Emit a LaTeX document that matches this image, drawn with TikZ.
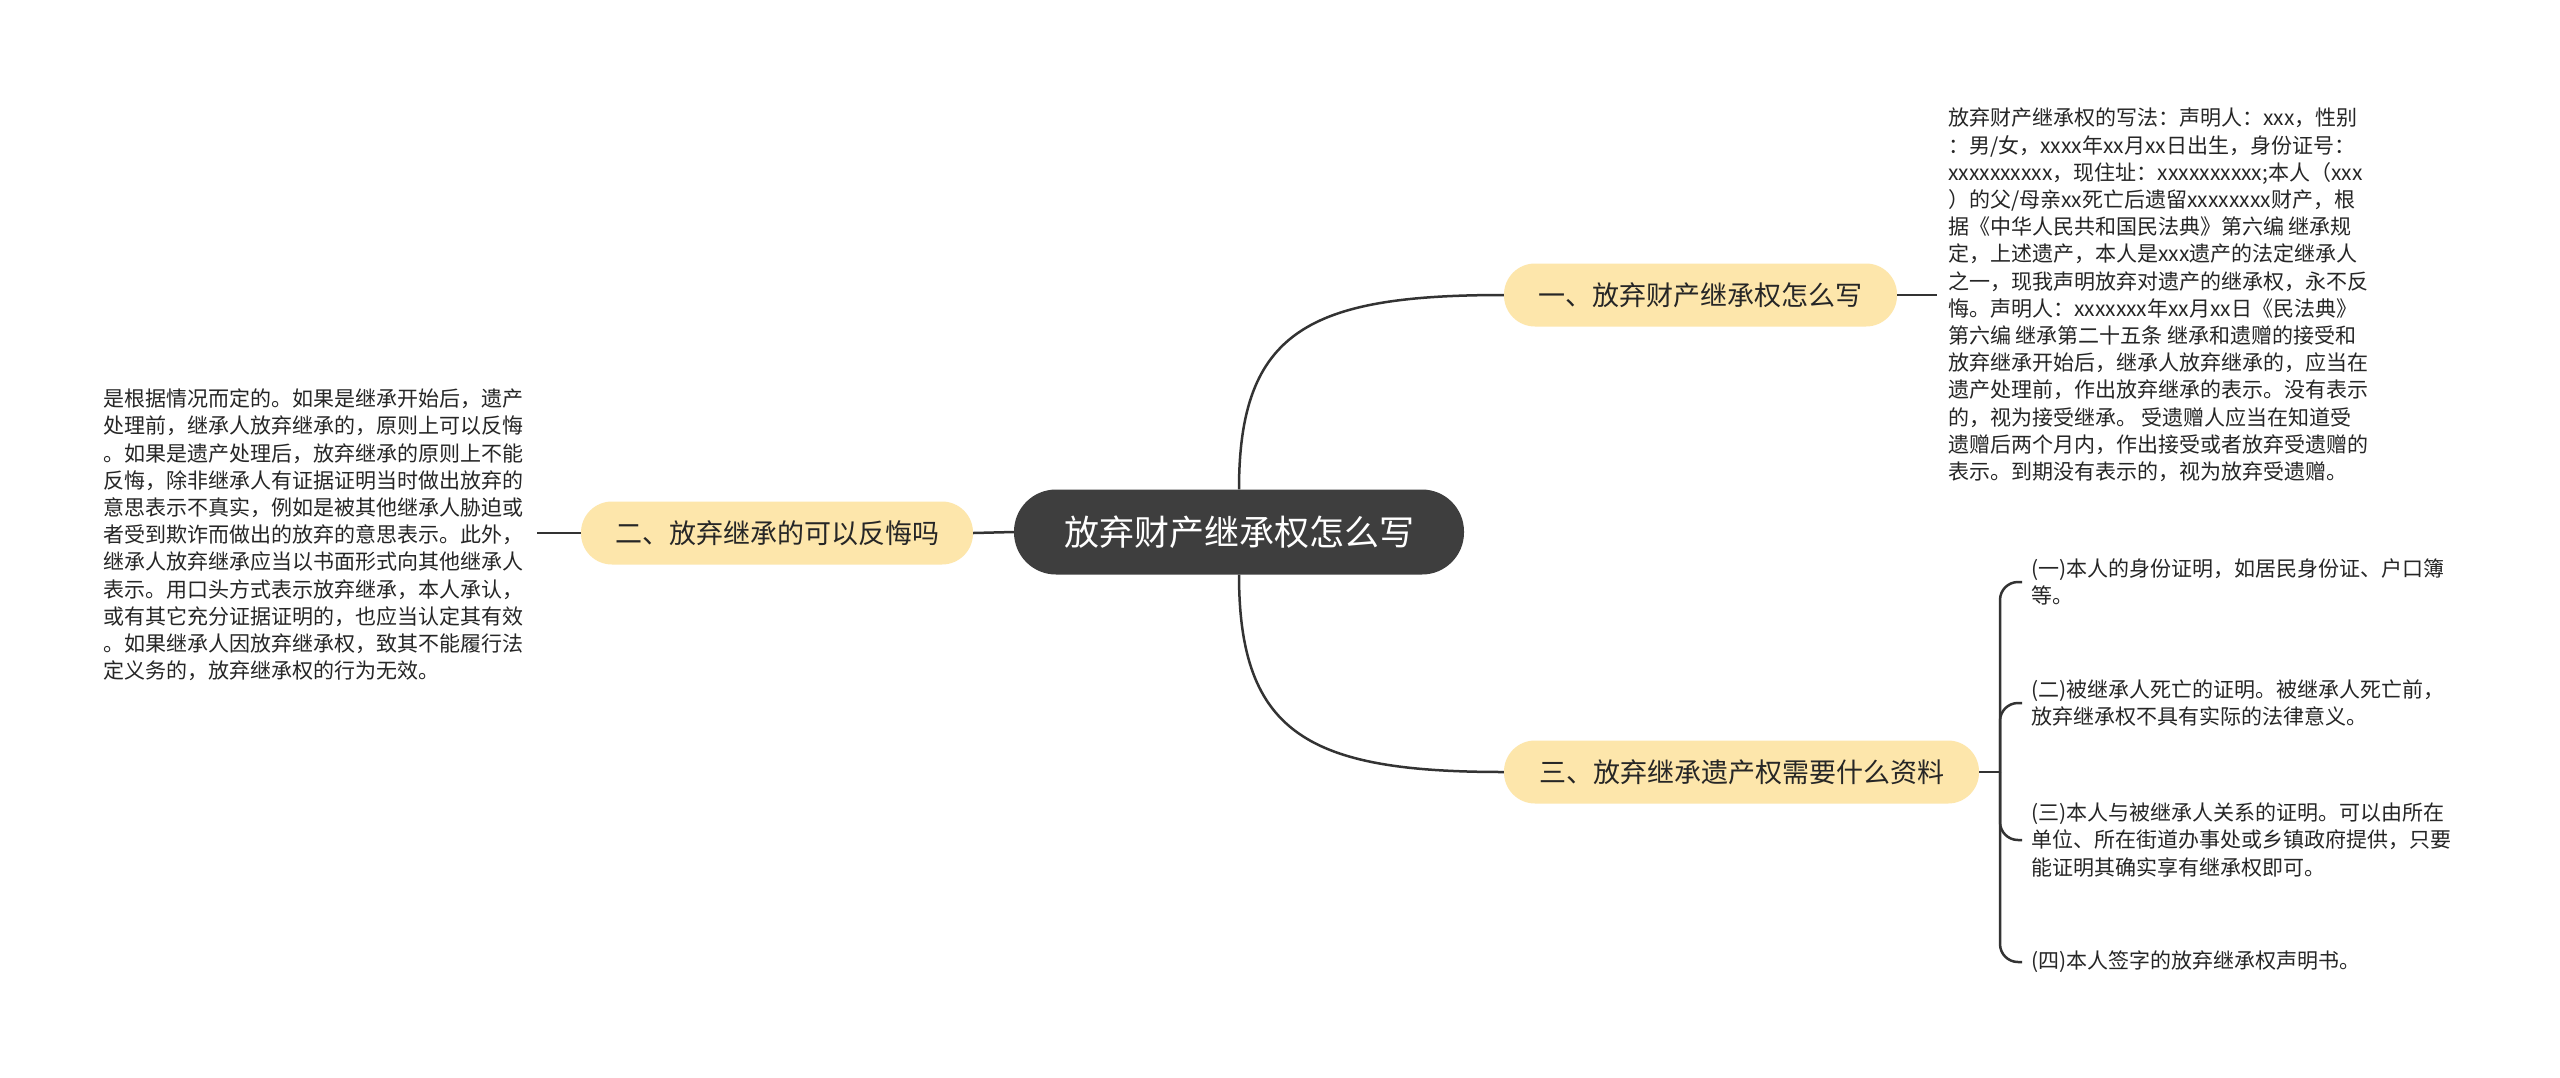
\documentclass[tikz,border=0pt]{standalone}
\usepackage{fontspec}
\setmainfont{Noto Sans CJK SC}
\definecolor{rootgray}{HTML}{3E3E3E}
\definecolor{branchfill}{HTML}{FDE6AB}
\definecolor{linegray}{HTML}{333333}
\definecolor{textgray}{HTML}{262626}
\begin{document}
\begin{tikzpicture}[x=1pt,y=-1pt,
  rootbox/.style={fill=rootgray,text=white,rounded corners=42pt,minimum width=450pt,minimum height=85pt,inner sep=0pt,font=\fontsize{35}{40}\selectfont},
  branchbox/.style={fill=branchfill,text=textgray,rounded corners=31pt,minimum height=63pt,inner sep=0pt,font=\fontsize{27}{32}\selectfont},
  detail/.style={text=textgray,align=left,inner sep=0pt,anchor=west,font=\fontsize{21}{27.2}\selectfont},
  link/.style={draw=linegray,line width=2.5pt}]
\useasboundingbox[fill=white] (0,0) rectangle (2560,1077);

\node[rootbox] (root) at (1239,532) {放弃财产继承权怎么写};

\node[branchbox,minimum width=393pt] (b1) at (1700.5,295) {一、放弃财产继承权怎么写};
\node[branchbox,minimum width=392pt] (b2) at (777,533) {二、放弃继承的可以反悔吗};
\node[branchbox,minimum width=475pt] (b3) at (1741.5,772) {三、放弃继承遗产权需要什么资料};

\node[detail] (t1) at (1948,295) {放弃财产继承权的写法：声明人：xxx，性别\\：男/女，xxxx年xx月xx日出生，身份证号：\\xxxxxxxxxx，现住址：xxxxxxxxxx;本人（xxx\\）的父/母亲xx死亡后遗留xxxxxxxx财产，根\\据《中华人民共和国民法典》第六编 继承规\\定，上述遗产，本人是xxx遗产的法定继承人\\之一，现我声明放弃对遗产的继承权，永不反\\悔。声明人：xxxxxxx年xx月xx日《民法典》\\第六编 继承第二十五条 继承和遗赠的接受和\\放弃继承开始后，继承人放弃继承的，应当在\\遗产处理前，作出放弃继承的表示。没有表示\\的，视为接受继承。 受遗赠人应当在知道受\\遗赠后两个月内，作出接受或者放弃受遗赠的\\表示。到期没有表示的，视为放弃受遗赠。};

\node[detail] (t2) at (103,535) {是根据情况而定的。如果是继承开始后，遗产\\处理前，继承人放弃继承的，原则上可以反悔\\。如果是遗产处理后，放弃继承的原则上不能\\反悔，除非继承人有证据证明当时做出放弃的\\意思表示不真实，例如是被其他继承人胁迫或\\者受到欺诈而做出的放弃的意思表示。此外，\\继承人放弃继承应当以书面形式向其他继承人\\表示。用口头方式表示放弃继承，本人承认，\\或有其它充分证据证明的，也应当认定其有效\\。如果继承人因放弃继承权，致其不能履行法\\定义务的，放弃继承权的行为无效。};

\node[detail,inner xsep=9pt] (i1) at (2022,582) {(一)本人的身份证明，如居民身份证、户口簿\\等。};
\node[detail,inner xsep=9pt] (i2) at (2022,703) {(二)被继承人死亡的证明。被继承人死亡前，\\放弃继承权不具有实际的法律意义。};
\node[detail,inner xsep=9pt] (i3) at (2022,840) {(三)本人与被继承人关系的证明。可以由所在\\单位、所在街道办事处或乡镇政府提供，只要\\能证明其确实享有继承权即可。};
\node[detail,inner xsep=9pt] (i4) at (2022,962) {(四)本人签字的放弃继承权声明书。};

\coordinate (c1) at (1937,295);
\coordinate (c2) at (537,533);
\coordinate (j3) at (2000,772);

\draw[link] (root.north) .. controls (1239,330) and (1310,295) .. (b1.west);
\draw[link] (root.south) .. controls (1239,735) and (1310,772) .. (b3.west);
\draw[link] (root.west) -- (b2.east);
\draw[link] (b1.east) -- (c1);
\draw[link] (b2.west) -- (c2);
\draw[link] (b3.east) -- (j3);
\draw[link,rounded corners=18pt] (j3) |- (i1.west);
\draw[link,rounded corners=18pt] (j3) |- (i2.west);
\draw[link,rounded corners=18pt] (j3) |- (i3.west);
\draw[link,rounded corners=18pt] (j3) |- (i4.west);
\end{tikzpicture}
\end{document}
